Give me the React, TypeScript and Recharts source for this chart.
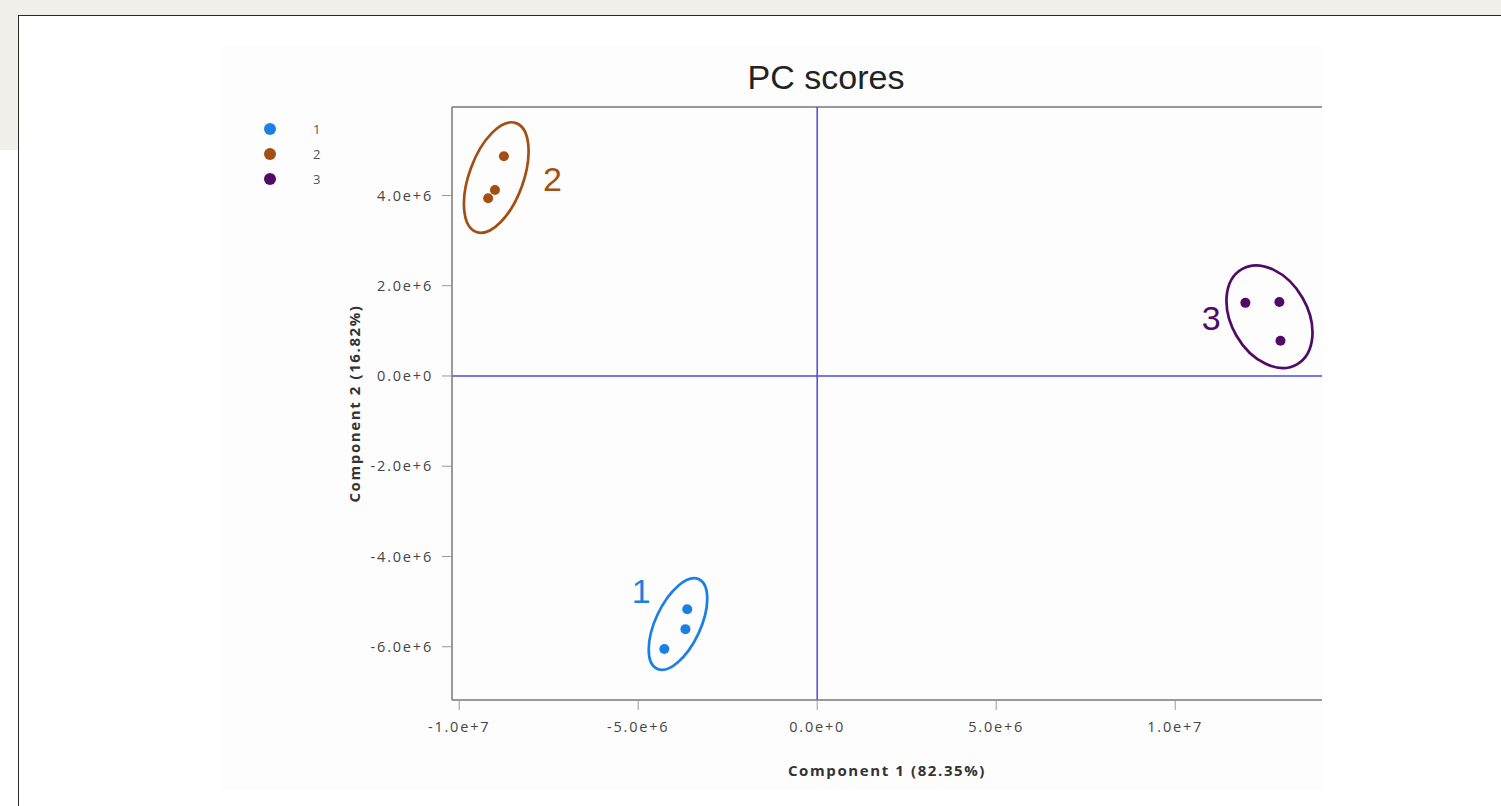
import React from "react";
import {
  ScatterChart,
  Scatter,
  XAxis,
  YAxis,
  ReferenceLine,
  ReferenceDot,
  Legend,
} from "recharts";

// groups
const groupNames = ["1", "2", "3"];
const groupColors = ["#1b80e4", "#a34f14", "#4f0b66"];

// PC scores per group (component 1, component 2)
const scores1 = [
  { x: -3.63e6, y: -5.17e6 },
  { x: -3.68e6, y: -5.61e6 },
  { x: -4.27e6, y: -6.05e6 },
];
const scores2 = [
  { x: -8.75e6, y: 4.87e6 },
  { x: -9.0e6, y: 4.12e6 },
  { x: -9.19e6, y: 3.94e6 },
];
const scores3 = [
  { x: 11.96e6, y: 1.62e6 },
  { x: 12.91e6, y: 1.64e6 },
  { x: 12.94e6, y: 0.78e6 },
];

// confidence ellipses: centre, end of major axis, end of minor axis
const ellipse1 = [
  { x: -3.888e6, y: -5.497e6 },
  { x: -3.303e6, y: -4.505e6 },
  { x: -3.317e6, y: -5.708e6 },
];
const ellipse2 = [
  { x: -8.964e6, y: 4.396e6 },
  { x: -8.409e6, y: 5.603e6 },
  { x: -8.252e6, y: 4.193e6 },
];
const ellipse3 = [
  { x: 12.633e6, y: 1.313e6 },
  { x: 11.863e6, y: 2.368e6 },
  { x: 13.555e6, y: 1.734e6 },
];

// where the group number is written next to each ellipse
const groupLabelPos = [
  { x: -4.916e6, y: -4.762e6 },
  { x: -7.395e6, y: 4.363e6 },
  { x: 11.008e6, y: 1.285e6 },
];

const xTicks = [-1e7, -5e6, 0, 5e6, 1e7];
const yTicks = [-6e6, -4e6, -2e6, 0, 2e6, 4e6];
const xDomain = [-1.02e7, 1.41e7];
const yDomain = [-7.18e6, 5.96e6];

const scores = [scores1, scores2, scores3];
const ellipses = [ellipse1, ellipse2, ellipse3];

const fmt = (v: number) => v.toExponential(1);

const tickFont = {
  fontSize: 14.5,
  fill: "#444",
  fontFamily: "Open Sans",
  letterSpacing: 1.8,
};

const titleFont = {
  fontSize: 15,
  fontWeight: 700,
  fill: "#333",
  fontFamily: "Open Sans",
  letterSpacing: 1.6,
};

function EllipseOutline(props: any) {
  const { points, stroke } = props;
  if (!points || points.length < 3) return <g />;
  const [c, a, b] = points;
  // unit circle mapped onto the two semi-axes in pixel space
  const m = `matrix(${a.x - c.x} ${a.y - c.y} ${b.x - c.x} ${b.y - c.y} ${c.x} ${c.y})`;
  return (
    <circle
      cx={0}
      cy={0}
      r={1}
      transform={m}
      fill="none"
      stroke={stroke}
      strokeWidth={2.7}
      vectorEffect="non-scaling-stroke"
    />
  );
}

function GroupLegend() {
  return (
    <div style={{ fontFamily: "Open Sans", fontSize: 13, color: "#555" }}>
      {groupNames.map((name, i) => (
        <div key={name} style={{ display: "flex", alignItems: "center", height: 25 }}>
          <span
            style={{
              width: 12,
              height: 12,
              borderRadius: "50%",
              background: groupColors[i],
              marginLeft: 2,
            }}
          />
          <span style={{ marginLeft: 37 }}>{name}</span>
        </div>
      ))}
    </div>
  );
}

export default function App() {
  return (
    <div
      style={{
        position: "absolute",
        left: 0,
        top: 0,
        width: 1501,
        height: 806,
        background: "#f3f0ec",
        overflow: "hidden",
      }}
    >
      <div
        style={{
          position: "absolute",
          left: 0,
          top: 150,
          width: 19,
          height: 656,
          background: "#ffffff",
        }}
      />
      <div
        style={{
          position: "absolute",
          left: 18,
          top: 15,
          width: 1483,
          height: 791,
          background: "#ffffff",
          borderTop: "1px solid #2a2a2a",
          borderLeft: "1px solid #2a2a2a",
        }}
      />
      <div
        style={{
          position: "absolute",
          left: 222,
          top: 45,
          width: 1100,
          height: 745,
          background: "#fdfdfd",
        }}
      >
        <div
          style={{
            position: "absolute",
            left: 0,
            top: 15,
            width: 1208,
            textAlign: "center",
            fontFamily: "Liberation Sans, Arial",
            fontSize: 34,
            lineHeight: "34px",
            color: "#222",
            zIndex: 1,
          }}
        >
          PC scores
        </div>
        <ScatterChart width={1100} height={745} margin={{ top: 62, right: 0, bottom: 0, left: 0 }}>
          <XAxis
            type="number"
            dataKey="x"
            domain={xDomain}
            ticks={xTicks}
            tickFormatter={fmt}
            allowDataOverflow
            height={90}
            tick={tickFont}
            tickSize={10}
            tickMargin={12}
            axisLine={{ stroke: "#777", strokeWidth: 1.5 }}
            tickLine={{ stroke: "#999" }}
            label={{
              value: "Component 1 (82.35%)",
              position: "insideBottom",
              offset: 14,
              ...titleFont,
            }}
          />
          <YAxis
            type="number"
            dataKey="y"
            domain={yDomain}
            ticks={yTicks}
            tickFormatter={fmt}
            allowDataOverflow
            width={230}
            tick={tickFont}
            tickSize={10}
            tickMargin={9}
            axisLine={{ stroke: "#777", strokeWidth: 1.5 }}
            tickLine={{ stroke: "#999" }}
            label={{
              value: "Component 2 (16.82%)",
              angle: -90,
              position: "insideLeft",
              offset: 133,
              style: { textAnchor: "middle" },
              ...titleFont,
            }}
          />
          <ReferenceLine y={yDomain[1]} stroke="#777" strokeWidth={1.5} />
          <ReferenceLine x={0} stroke="#4a4ae6" strokeWidth={1.5} />
          <ReferenceLine y={0} stroke="#4a4ae6" strokeWidth={1.5} />
          <Legend
            layout="vertical"
            align="center"
            verticalAlign="middle"
            wrapperStyle={{ left: 40, top: 71, width: 80 }}
            content={() => <GroupLegend />}
          />
          {ellipses.map((e, i) => (
            <Scatter
              key={"ell" + i}
              data={e}
              fill={groupColors[i]}
              shape={() => <g />}
              line={(p: any) => <EllipseOutline {...p} stroke={groupColors[i]} />}
              lineType="joint"
              legendType="none"
              isAnimationActive={false}
            />
          ))}
          {scores.map((s, i) => (
            <Scatter
              key={"pts" + i}
              name={groupNames[i]}
              data={s}
              fill={groupColors[i]}
              shape={(p: any) => <circle cx={p.cx} cy={p.cy} r={5} fill={groupColors[i]} />}
              isAnimationActive={false}
            />
          ))}
          {groupLabelPos.map((p, i) => (
            <ReferenceDot
              key={"lbl" + i}
              x={p.x}
              y={p.y}
              r={1}
              fill="none"
              stroke="none"
              label={{
                value: groupNames[i],
                position: "center",
                fill: groupColors[i],
                fontSize: 34,
                fontFamily: "Liberation Sans, Arial",
              }}
            />
          ))}
        </ScatterChart>
      </div>
    </div>
  );
}
